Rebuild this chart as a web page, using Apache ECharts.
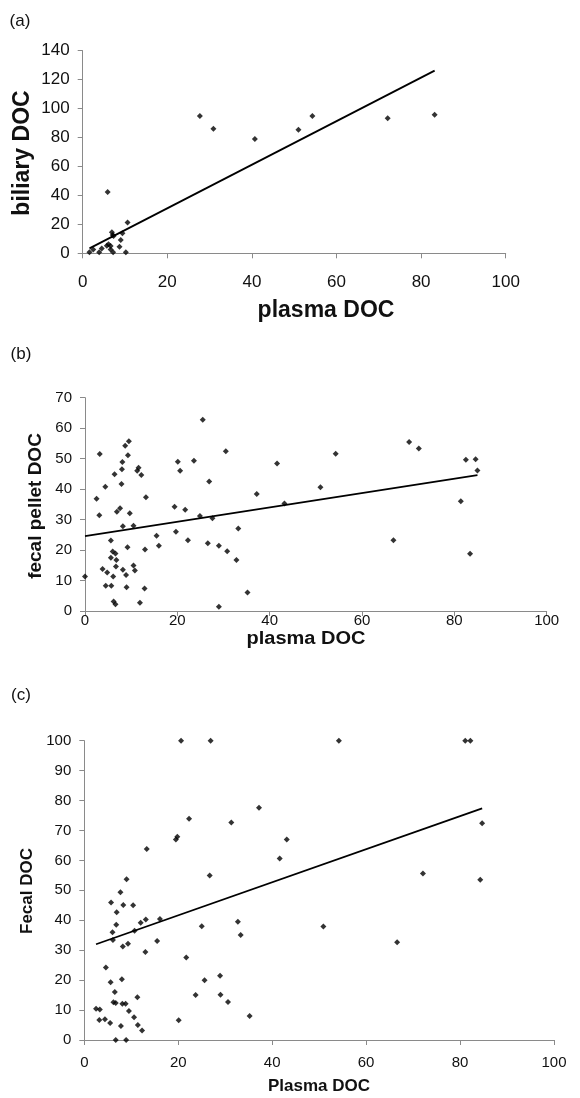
<!DOCTYPE html>
<html>
<head>
<meta charset="utf-8">
<script src="https://cdn.jsdelivr.net/npm/echarts@6/dist/echarts.min.js"></script>
<style>
html,body{margin:0;padding:0;background:#fff;}
#chart{width:580px;height:1098px;}
</style>
</head>
<body>
<div id="chart"></div>
<script>
// Panel (a): plasma DOC vs biliary DOC
var aX = [1.6, 2.5, 3.9, 4.5, 5.7, 6.1, 6.6, 6.9, 7.1, 7.3, 6.6, 7.2, 8.7, 9.0, 9.4, 10.2, 10.6, 5.9, 27.7, 30.9, 40.7, 51.0, 54.3, 72.1, 83.2];
var aY = [0.7, 2.7, 0.7, 3.4, 5.3, 6.2, 5.0, 14.5, 12.6, 12.0, 2.7, 0.7, 4.6, 9.2, 13.8, 0.7, 21.2, 42.4, 94.9, 86.1, 79.0, 85.4, 94.9, 93.3, 95.8];
var aTrendX = [1.6, 83.2];
var aTrendY = [3.4, 126.2];
var aXTicks = [0, 20, 40, 60, 80, 100];
var aYTicks = [0, 20, 40, 60, 80, 100, 120, 140];

// Panel (b): plasma DOC vs fecal pellet DOC
var bX = [0, 2.5, 3.1, 3.2, 3.8, 4.4, 4.5, 4.8, 5.6, 5.7, 5.6, 6.0, 6.1, 6.2, 6.6, 6.4, 6.6, 6.8, 6.7, 6.9,
          7.6, 7.9, 8.0, 8.1, 8.2, 8.2, 8.7, 8.9, 9.0, 9.2, 9.3, 9.5, 9.7, 10.5, 10.5, 10.8, 11.3, 11.6, 11.9, 12.2,
          13.0, 12.9, 13.2, 15.5, 16.0, 19.4, 19.7, 20.1, 20.6, 21.7, 22.3, 23.6, 24.9, 25.5, 26.6, 26.9, 27.6, 29.0, 29.0, 30.5,
          30.8, 32.8, 33.2, 35.2, 37.2, 41.6, 43.2, 51.0, 54.3, 66.8, 70.2, 72.3, 81.4, 82.5, 84.6, 85.0, 83.4];
var bY = [11.3, 36.8, 31.4, 51.5, 13.8, 40.8, 8.3, 12.6, 23.1, 8.3, 17.5, 19.5, 11.3, 3.1, 2.2, 44.9, 18.9, 16.7, 14.6, 32.6,
          33.7, 41.7, 46.5, 48.9, 27.8, 13.5, 54.2, 11.8, 7.8, 20.9, 51.1, 55.7, 32.1, 28.0, 14.9, 13.3, 46.0, 47.0, 2.7, 44.6,
          20.2, 7.4, 37.3, 24.7, 21.4, 34.2, 26.0, 49.0, 46.0, 33.2, 23.2, 49.3, 31.2, 62.8, 22.2, 42.5, 30.4, 1.4, 21.4, 52.4,
          19.6, 16.7, 27.1, 6.1, 38.4, 48.4, 35.3, 40.6, 51.6, 23.2, 55.5, 53.3, 36.0, 49.6, 49.8, 46.1, 18.8];
var bTrendX = [0, 85];
var bTrendY = [24.6, 44.6];
var bXTicks = [0, 20, 40, 60, 80, 100];
var bYTicks = [0, 10, 20, 30, 40, 50, 60, 70];

// Panel (c): Plasma DOC vs Fecal DOC
var cX = [20.6, 26.9, 37.2, 22.3, 31.3, 19.5, 19.8, 43.1, 41.6, 13.3, 26.7, 9.0, 7.7, 5.7, 8.3, 10.4, 6.9, 6.8, 6.0, 6.1,
          8.2, 9.3, 10.7, 12.0, 13.1, 16.1, 13.0, 15.5, 21.7, 25.0, 32.7, 33.3, 25.6, 28.9,
          4.6, 5.6, 8.0, 6.5, 6.2, 6.7, 8.1, 8.8, 11.3, 2.5, 3.3, 9.5, 3.2, 4.4, 5.5, 10.6, 7.8, 11.4, 12.3, 6.7, 8.9,
          23.7, 29.0, 30.6, 20.1, 35.2,
          54.2, 81.1, 82.2, 84.7, 72.1, 84.3, 50.9, 66.6];
var cY = [100, 100, 77.6, 73.9, 72.7, 67.0, 67.9, 67.0, 60.6, 63.8, 55.0, 53.7, 49.4, 45.9, 45.1, 45.0, 42.7, 38.5, 36.0, 33.4,
          31.2, 32.2, 36.5, 39.2, 40.3, 40.4, 29.4, 33.1, 27.6, 38.0, 39.5, 35.1, 20.0, 21.5,
          24.2, 19.3, 20.3, 16.0, 12.6, 12.4, 12.1, 12.1, 14.3, 10.4, 10.2, 9.7, 6.7, 6.9, 5.7, 7.6, 4.7, 5.0, 3.2, 0, 0,
          15.0, 15.1, 12.7, 6.6, 8.0,
          100, 100, 100, 72.4, 55.6, 53.5, 37.9, 32.7];
var cTrendX = [2.5, 84.7];
var cTrendY = [32.0, 77.4];
var cXTicks = [0, 20, 40, 60, 80, 100];
var cYTicks = [0, 10, 20, 30, 40, 50, 60, 70, 80, 90, 100];

function zip(xs, ys) { return xs.map(function (x, i) { return [x, ys[i]]; }); }

var AXIS_COLOR = '#8a8a8a';
var TEXT_COLOR = '#111';

function makeAxis(idx, ticks, font, margin) {
  return {
    type: 'value', gridIndex: idx,
    min: ticks[0], max: ticks[ticks.length - 1], interval: ticks[1] - ticks[0],
    axisLine: { show: true, onZero: false, lineStyle: { color: AXIS_COLOR, width: 1 } },
    axisTick: { show: true, inside: false, length: 5, lineStyle: { color: AXIS_COLOR } },
    splitLine: { show: false },
    axisLabel: { color: TEXT_COLOR, fontSize: font.size, fontFamily: font.family, margin: margin, showMinLabel: true, showMaxLabel: true }
  };
}

var fontA = { size: 17, family: 'Liberation Sans, Arial, sans-serif' };
var fontBC = { size: 15, family: 'Liberation Sans, Arial, sans-serif' };

function scatter(idx, data) {
  return {
    type: 'scatter', xAxisIndex: idx, yAxisIndex: idx, data: data,
    symbol: 'diamond', symbolSize: 6, itemStyle: { color: '#000' }, silent: true, z: 3
  };
}
function trend(idx, data) {
  return {
    type: 'line', xAxisIndex: idx, yAxisIndex: idx, data: data,
    symbol: 'none', lineStyle: { color: '#000', width: 1.8 }, silent: true, z: 2
  };
}

function label(text, x, y, size, weight, rot, sy) {
  return {
    type: 'text', x: x, y: y, rotation: rot || 0, scaleY: sy || 1, silent: true,
    style: {
      text: text, fill: TEXT_COLOR,
      font: (weight || 'normal') + ' ' + size + 'px Liberation Sans, Arial, sans-serif',
      align: 'center', verticalAlign: 'middle',
      textAlign: 'center', textVerticalAlign: 'middle'
    }
  };
}

var chart = echarts.init(document.getElementById('chart'), null, { renderer: 'canvas' });
chart.setOption({
  animation: false,
  backgroundColor: '#fff',
  grid: [
    { left: 82.7, top: 50.7, width: 423, height: 202.6 },
    { left: 85, top: 397.7, width: 461.7, height: 213.3 },
    { left: 84.3, top: 740.7, width: 469.7, height: 299.3 }
  ],
  xAxis: [
    makeAxis(0, aXTicks, fontA, 21),
    makeAxis(1, bXTicks, fontBC, 2),
    makeAxis(2, cXTicks, fontBC, 15)
  ],
  yAxis: [
    makeAxis(0, aYTicks, fontA, 13),
    makeAxis(1, bYTicks, fontBC, 13),
    makeAxis(2, cYTicks, fontBC, 13)
  ],
  series: [
    trend(0, zip(aTrendX, aTrendY)),
    scatter(0, zip(aX, aY)),
    trend(1, zip(bTrendX, bTrendY)),
    scatter(1, zip(bX, bY)),
    trend(2, zip(cTrendX, cTrendY)),
    scatter(2, zip(cX, cY))
  ],
  graphic: [
    label('(a)', 20, 21, 17),
    label('biliary DOC', 23, 153, 23, 'bold', Math.PI / 2),
    label('plasma DOC', 326, 311, 23, 'bold'),
    label('(b)', 21, 354, 17),
    label('fecal pellet DOC', 36, 506, 19, 'bold', Math.PI / 2),
    label('plasma DOC', 306, 639, 20, 'bold', 0, 0.9),
    label('(c)', 21, 695, 17),
    label('Fecal DOC', 27.5, 891, 17, 'bold', Math.PI / 2),
    label('Plasma DOC', 319, 1086, 17, 'bold')
  ]
});
</script>
</body>
</html>
